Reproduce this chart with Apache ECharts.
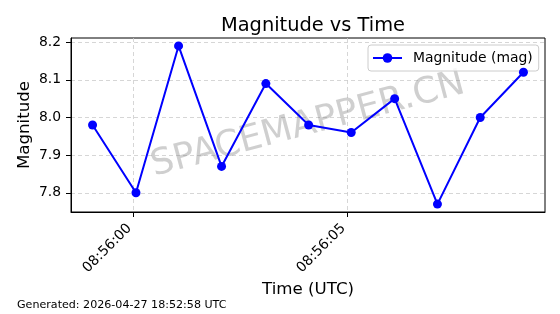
<!DOCTYPE html>
<html>
<head>
<meta charset="utf-8">
<script src="https://cdn.jsdelivr.net/npm/echarts@6/dist/echarts.min.js"></script>
<style>
html,body{margin:0;padding:0;background:#fff;}
#c{width:560px;height:314px;}
</style>
</head>
<body>
<div id="c"></div>
<script>
// Data
var times = ["08:55:59.040","08:56:00.055","08:56:01.050","08:56:02.055","08:56:03.090","08:56:04.090","08:56:05.085","08:56:06.100","08:56:07.100","08:56:08.100","08:56:09.110"];
var magnitudes = [7.98, 7.80, 8.19, 7.87, 8.09, 7.98, 7.96, 8.05, 7.77, 8.00, 8.12];
var xTickLabels = ["08:56:00", "08:56:05"];
var yTicks = [7.8, 7.9, 8.0, 8.1, 8.2];
var titleText = "Magnitude vs Time";
var seriesName = "Magnitude (mag)";
var xName = "Time (UTC)";
var yName = "Magnitude";
var footer = "Generated: 2026-04-27 18:52:58 UTC";
var watermark = "SPACEMAPPER.CN";

function toSec(s){var p=s.split(":");return (+p[0])*3600+(+p[1])*60+parseFloat(p[2]);}
function fmt(v){var t=Math.round(v);var h=Math.floor(t/3600),m=Math.floor((t%3600)/60),s=t%60;
  function z(n){return (n<10?"0":"")+n;} return z(h)+":"+z(m)+":"+z(s);}

var xs = times.map(toSec);
var xMinD = Math.min.apply(null,xs), xMaxD = Math.max.apply(null,xs);
var yMinD = Math.min.apply(null,magnitudes), yMaxD = Math.max.apply(null,magnitudes);
var xPad = (xMaxD-xMinD)*0.05, yPad=(yMaxD-yMinD)*0.05;
var xTickVals = xTickLabels.map(toSec);
var data = xs.map(function(x,i){return [x, magnitudes[i]];});

var FONT = "DejaVu Sans";
var chart = echarts.init(document.getElementById('c'), null, {renderer:'canvas'});
chart.setOption({
  backgroundColor:'#fff',
  animation:false,
  textStyle:{fontFamily:FONT},
  title:{text:titleText,left:308,top:11,textAlign:'center',
    textStyle:{fontFamily:FONT,fontSize:19.4,fontWeight:'normal',color:'#000'}},
  legend:{left:368,top:45,padding:[6,6,6,4],itemWidth:29,itemHeight:12,
    backgroundColor:'rgba(255,255,255,0.8)',borderColor:'#cccccc',borderWidth:1,borderRadius:3,
    textStyle:{fontFamily:FONT,fontSize:13.9,color:'#000',padding:[0,0,0,6]},
    data:[{name:seriesName}]},
  grid:{left:71,right:15,top:38,bottom:102,show:true,borderColor:'#000',borderWidth:1,outerBoundsMode:'none',containLabel:false},
  xAxis:{type:'value',min:xMinD-xPad,max:xMaxD+xPad,
    name:xName,nameLocation:'middle',nameGap:69,nameMoveOverlap:false,
    nameTextStyle:{fontFamily:FONT,fontSize:16.67,color:'#000'},
    axisLine:{show:true,onZero:false,lineStyle:{color:'#000',width:1}},
    axisTick:{show:true,inside:false,length:5,lineStyle:{color:'#000',width:1},customValues:xTickVals},
    axisLabel:{show:true,rotate:45,margin:10,padding:[0,6,0,0],fontFamily:FONT,fontSize:13.9,color:'#000',
      customValues:xTickVals,formatter:function(v){return fmt(v);}},
    splitLine:{show:true,lineStyle:{color:'#cccccc',type:[4,3],width:0.8}}
  },
  yAxis:{type:'value',min:yMinD-yPad,max:yMaxD+yPad,
    name:yName,nameLocation:'middle',nameGap:38,nameRotate:90,nameMoveOverlap:false,
    nameTextStyle:{fontFamily:FONT,fontSize:16.67,color:'#000'},
    axisLine:{show:true,onZero:false,lineStyle:{color:'#000',width:1}},
    axisTick:{show:true,inside:false,length:5,lineStyle:{color:'#000',width:1},customValues:yTicks},
    axisLabel:{show:true,margin:10,fontFamily:FONT,fontSize:13.9,color:'#000',
      customValues:yTicks,formatter:function(v){return v.toFixed(1);}},
    splitLine:{show:true,lineStyle:{color:'#cccccc',type:[4,3],width:0.8}}
  },
  graphic:[
    {type:'text',left:17,top:300,z:10,style:{text:footer,fontFamily:FONT,fontSize:11.1,fill:'#000'}},
    {type:'text',x:308,y:125,rotation:15*Math.PI/180,z:1,
      style:{text:watermark,fontFamily:FONT,fontSize:36,fill:'rgba(128,128,128,0.38)',align:'center',verticalAlign:'middle'}}
  ],
  series:[{name:seriesName,type:'line',data:data,symbol:'circle',symbolSize:9,
    showAllSymbol:true,z:5,
    lineStyle:{color:'#0000ff',width:2},itemStyle:{color:'#0000ff'}}]
});
</script>
</body>
</html>
